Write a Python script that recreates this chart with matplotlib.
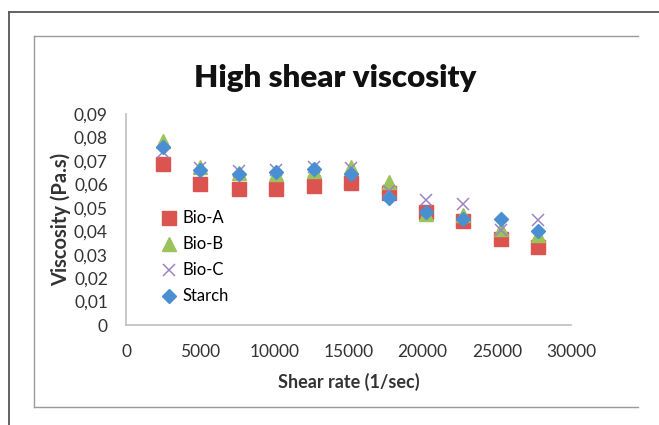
import matplotlib.pyplot as plt
from matplotlib.lines import Line2D
from matplotlib.ticker import FuncFormatter

plt.rcParams['font.family'] = ['Lato', 'DejaVu Sans']

# shear rate (1/sec) and viscosity (Pa.s) per sample
shear_rate = [2500, 5000, 7600, 10100, 12650, 15200, 17700, 20200, 22750, 25300, 27800]
bio_a = [0.0685, 0.0601, 0.0578, 0.0581, 0.0595, 0.0607, 0.0562, 0.0482, 0.0443, 0.0368, 0.0333]
bio_b = [0.0785, 0.0675, 0.0650, 0.0645, 0.0655, 0.0675, 0.0612, 0.0475, 0.0470, 0.0410, 0.0382]
bio_c = [0.0740, 0.0670, 0.0655, 0.0660, 0.0675, 0.0670, 0.0570, 0.0533, 0.0516, 0.0405, 0.0448]
starch = [0.0760, 0.0660, 0.0642, 0.0652, 0.0664, 0.0642, 0.0540, 0.0480, 0.0452, 0.0452, 0.0403]

fig = plt.figure(figsize=(6.59, 4.25), dpi=100)

# outer frame (top and left) and chart area box
fig.add_artist(Line2D([9/659, 9/659], [0, 1 - 12/425], color='#555555', lw=1.3))
fig.add_artist(Line2D([9/659, 1], [1 - 12/425, 1 - 12/425], color='#555555', lw=1.3))
bx0, bx1 = 34/659, 638/659
by0, by1 = 1 - 407/425, 1 - 36/425
fig.add_artist(Line2D([bx0, bx1], [by1, by1], color='#9a9a9a', lw=1.0))
fig.add_artist(Line2D([bx0, bx0], [by0, by1], color='#9a9a9a', lw=1.0))
fig.add_artist(Line2D([bx0, bx1], [by0, by0], color='#9a9a9a', lw=1.0))

ax = fig.add_axes([126/659, 1 - 325/425, 445/659, 211/425])

ax.plot(shear_rate, bio_a, 's', color='#db5450', ms=10.5, mec='#db5450', label='Bio-A')
ax.plot(shear_rate, bio_b, '^', color='#9cc35b', ms=10.5, mec='#9cc35b', label='Bio-B')
ax.plot(shear_rate, bio_c, 'x', color='#9d83c6', ms=9, mew=1.1, label='Bio-C')
ax.plot(shear_rate, starch, 'D', color='#4a8fd2', ms=7.5, mec='#4a8fd2', label='Starch')

ax.set_xlim(0, 30000)
ax.set_ylim(0, 0.09)
ax.set_xticks(range(0, 30001, 5000))
ax.set_yticks([i / 100 for i in range(10)])
ax.yaxis.set_major_formatter(FuncFormatter(lambda v, p: '0' if v == 0 else f'{v:.2f}'.replace('.', ',')))

for s in ['top', 'right']:
    ax.spines[s].set_visible(False)
for s in ['left', 'bottom']:
    ax.spines[s].set_color('#bfbfbf')
    ax.spines[s].set_linewidth(1.2)
ax.tick_params(length=0, labelsize=12.5, colors='#333333')
ax.tick_params(axis='x', pad=14)
ax.tick_params(axis='y', pad=13)

ax.set_xlabel('Shear rate (1/sec)', fontsize=13, fontweight='bold', color='#333333', labelpad=9)
ax.set_ylabel('Viscosity (Pa.s)', fontsize=14.5, fontweight='bold', color='#333333', labelpad=2)
fig.text(335/659, 1 - 78/425, 'High shear viscosity', fontsize=22.5, fontweight='heavy',
         ha='center', va='center', color='#111111')

ax.legend(loc='center left', bbox_to_anchor=(0.06, 0.32), frameon=False, fontsize=12,
          borderpad=0, handlelength=1, handletextpad=0.3, labelspacing=0.6)

fig.savefig('out.png', dpi=100)
